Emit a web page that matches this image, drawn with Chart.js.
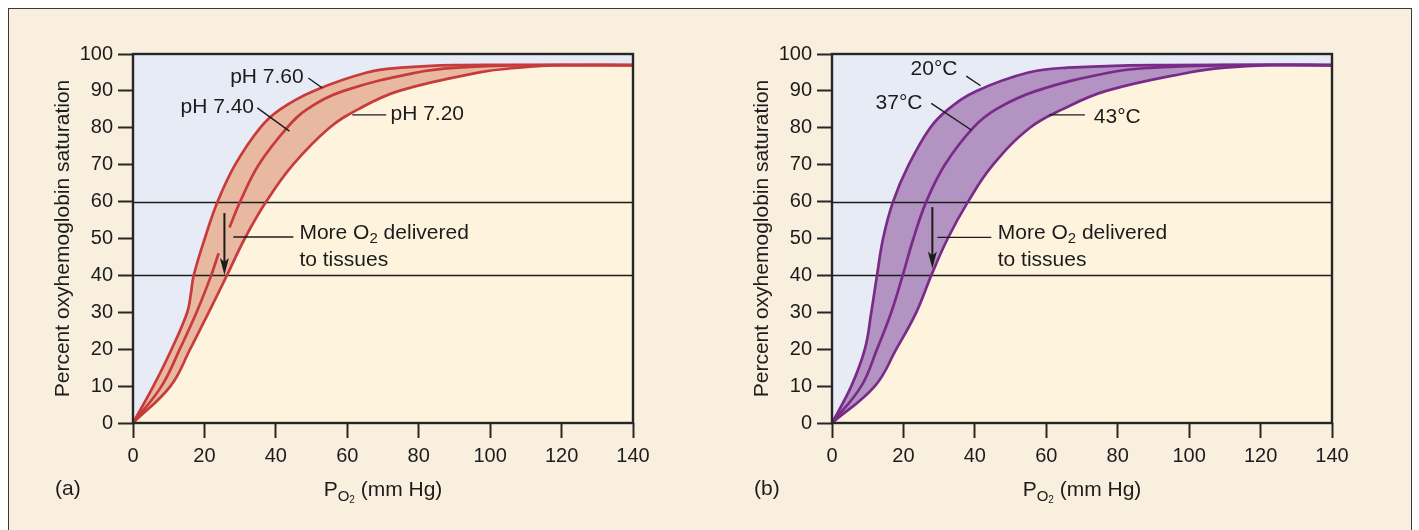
<!DOCTYPE html>
<html><head><meta charset="utf-8">
<script src="https://cdn.jsdelivr.net/npm/chart.js@4.4.1/dist/chart.umd.min.js"></script>
<style>
html,body{margin:0;padding:0;background:#fff;width:1419px;height:530px;overflow:hidden;}
#frame{position:absolute;left:8px;top:8px;width:1404px;height:560px;border:1.5px solid #3a3a3a;background:#f9efdf;box-sizing:border-box;}
.wrap{position:absolute;top:0;width:700px;height:530px;}
#wa{left:0px}
#wb{left:699px}
</style></head><body>
<div id="frame"></div>
<div class="wrap" id="wa"><canvas id="ca"></canvas></div>
<div class="wrap" id="wb"><canvas id="cb"></canvas></div>
<script>
// ---------- axis ticks ----------
const xTickValues = [0, 20, 40, 60, 80, 100, 120, 140];
const yTickValues = [0, 10, 20, 30, 40, 50, 60, 70, 80, 90, 100];
const refLines = [40, 60];

// ---------- panel (a): pH curves (saturation % and PO2 mm Hg) ----------
const satPH760 = [0, 10, 20, 30, 35, 40, 50, 60, 70, 80, 85, 90, 95, 96.3, 97, 97, 97];
const po2PH760 = [0, 5.7, 10.8, 15.2, 16.2, 17.0, 20.1, 23.7, 28.6, 35.6, 41.2, 50.6, 65.5, 75, 90, 115, 140];
const satPH740 = [0, 10, 20, 30, 40, 46, 53, 60, 70, 80, 85, 90, 95, 96.3, 97, 97, 97];
const po2PH740 = [0, 8.0, 13.1, 17.8, 21.9, 24.0, 27.0, 30.0, 35.2, 43.1, 48.7, 59.0, 79.5, 91, 110, 125, 140];
const gapPH740 = [46, 53];
const satPH720 = [0, 10, 20, 30, 40, 50, 60, 70, 80, 85, 90, 95, 96.3, 97, 97];
const po2PH720 = [0, 10.5, 16.0, 21.2, 26.3, 31.3, 37.3, 44.8, 55.0, 63.0, 74.5, 97, 108, 120, 140];

// ---------- panel (b): temperature curves ----------
const satT = [0, 10, 20, 30, 40, 50, 60, 70, 80, 85, 90, 95, 96.3, 97, 97];
const po2T20 = [0, 5.4, 9.2, 11.0, 12.6, 14.3, 17.1, 21.5, 27.5, 32.5, 40.5, 55.0, 66, 90, 140];
const po2T37 = [0, 8.2, 12.6, 16.6, 19.8, 22.8, 26.4, 31.6, 39.5, 45.9, 57.2, 77.8, 90, 110, 140];
const po2T43 = [0, 12.0, 18.0, 23.6, 27.8, 32.4, 38.1, 45.1, 55.4, 64.5, 76.8, 100, 110, 122, 140];

const FONT = "'Liberation Sans', Arial, Helvetica, sans-serif";
const INK = '#1c1c1c';

function pts(xs, ys) { return xs.map((x, i) => ({x: x, y: ys[i]})); }

function drawRich(ctx, parts, x, y) {
  let cx = x;
  for (const p of parts) {
    ctx.font = p.size + 'px ' + FONT;
    ctx.fillText(p.t, cx, y + (p.dy || 0));
    cx += ctx.measureText(p.t).width;
  }
}
function richWidth(ctx, parts) {
  let w = 0;
  for (const p of parts) { ctx.font = p.size + 'px ' + FONT; w += ctx.measureText(p.t).width; }
  return w;
}

function makePanel(canvasId, cfg) {
  const deco = {
    id: 'deco_' + canvasId,
    beforeDraw(chart) {
      const {ctx, chartArea: a} = chart;
      ctx.save();
      ctx.fillStyle = cfg.skyColor;
      ctx.fillRect(a.left, a.top, a.right - a.left, a.bottom - a.top);
      ctx.restore();
    },
    beforeDatasetsDraw(chart) {
      const {ctx, chartArea: a, scales: {y}} = chart;
      ctx.save();
      ctx.strokeStyle = INK; ctx.lineWidth = 1.3;
      for (const v of refLines) {
        const py = Math.round(y.getPixelForValue(v)) + 0.5;
        ctx.beginPath(); ctx.moveTo(a.left, py); ctx.lineTo(a.right, py); ctx.stroke();
      }
      ctx.restore();
    },
    afterDatasetsDraw(chart) {
      const {ctx, chartArea: a, scales: {x, y}} = chart;
      ctx.save();
      // frame
      ctx.strokeStyle = '#262626'; ctx.lineWidth = 2.4;
      ctx.strokeRect(a.left, a.top, a.right - a.left, a.bottom - a.top);
      // labels with leaders
      ctx.fillStyle = INK; ctx.strokeStyle = INK; ctx.lineWidth = 1.4;
      ctx.textBaseline = 'middle'; ctx.textAlign = 'left';
      for (const L of cfg.labels) {
        ctx.font = '21px ' + FONT;
        ctx.fillText(L.text, x.getPixelForValue(L.x), y.getPixelForValue(L.y));
        ctx.beginPath();
        ctx.moveTo(x.getPixelForValue(L.lead[0]), y.getPixelForValue(L.lead[1]));
        ctx.lineTo(x.getPixelForValue(L.lead[2]), y.getPixelForValue(L.lead[3]));
        ctx.stroke();
      }
      // "More O2 delivered / to tissues"
      const n = cfg.note;
      const nx = x.getPixelForValue(n.x);
      drawRich(ctx, [{t: 'More O', size: 21}, {t: '2', size: 15, dy: 5}, {t: ' delivered', size: 21}], nx, y.getPixelForValue(n.y1));
      drawRich(ctx, [{t: 'to tissues', size: 21}], nx, y.getPixelForValue(n.y2));
      ctx.beginPath();
      ctx.moveTo(x.getPixelForValue(n.lead[0]), y.getPixelForValue(n.lead[2]));
      ctx.lineTo(x.getPixelForValue(n.lead[1]), y.getPixelForValue(n.lead[2]));
      ctx.stroke();
      // arrow
      const ax = x.getPixelForValue(n.arrow[0]);
      const ay1 = y.getPixelForValue(n.arrow[1]);
      const ay2 = y.getPixelForValue(n.arrow[2]);
      ctx.lineWidth = 2;
      ctx.beginPath(); ctx.moveTo(ax, ay1); ctx.lineTo(ax, ay2 - 10); ctx.stroke();
      ctx.beginPath(); ctx.moveTo(ax, ay2); ctx.lineTo(ax - 4.5, ay2 - 17); ctx.lineTo(ax, ay2 - 13); ctx.lineTo(ax + 4.5, ay2 - 17); ctx.closePath(); ctx.fill();
      // x-axis title with subscript
      ctx.textBaseline = 'alphabetic';
      const parts = [{t: 'P', size: 21}, {t: 'O', size: 15, dy: 5}, {t: '2', size: 10, dy: 7}, {t: ' (mm Hg)', size: 21}];
      const w = richWidth(ctx, parts);
      drawRich(ctx, parts, (a.left + a.right) / 2 - w / 2, 496);
      // panel letter
      ctx.font = '21px ' + FONT;
      ctx.fillText(cfg.panel, a.left - 78, 495);
      ctx.restore();
    }
  };

  const datasets = cfg.curves.map((c, i) => ({
    label: c.label,
    data: c.data,
    borderColor: cfg.lineColor,
    borderWidth: 2.7,
    pointRadius: 0,
    tension: 0.4,
    fill: c.fill,
    backgroundColor: c.fillColor || 'transparent',
    segment: c.gap ? {
      borderColor: s => (s.p0.parsed.y >= c.gap[0] && s.p1.parsed.y <= c.gap[1]) ? 'rgba(0,0,0,0)' : cfg.lineColor
    } : undefined
  }));

  const tickFont = {family: FONT, size: 20};
  return new Chart(document.getElementById(canvasId), {
    type: 'line',
    data: {datasets},
    options: {
      responsive: true,
      maintainAspectRatio: false,
      animation: false,
      devicePixelRatio: 1,
      layout: {padding: {top: 54, right: 67, bottom: 0, left: 0}},
      plugins: {legend: {display: false}, tooltip: {enabled: false}, filler: {drawTime: 'beforeDatasetsDraw'}},
      scales: {
        x: {
          type: 'linear', min: 0, max: 140,
          afterBuildTicks: s => { s.ticks = xTickValues.map(v => ({value: v})); },
          afterFit: s => { s.height = 107; },
          ticks: {font: tickFont, color: INK, padding: 6, maxRotation: 0, autoSkip: false},
          grid: {drawOnChartArea: false, tickLength: 15, tickWidth: 2, tickColor: '#262626'},
          border: {display: false},
          title: {display: false}
        },
        y: {
          type: 'linear', min: 0, max: 100,
          afterBuildTicks: s => { s.ticks = yTickValues.map(v => ({value: v})); },
          afterFit: s => { s.width = 133; },
          ticks: {font: tickFont, color: INK, padding: 5, autoSkip: false},
          grid: {drawOnChartArea: false, tickLength: 15, tickWidth: 2, tickColor: '#262626'},
          border: {display: false},
          title: {display: true, text: 'Percent oxyhemoglobin saturation', color: INK,
                  font: {family: FONT, size: 21}, padding: {top: 51, bottom: 0}}
        }
      }
    },
    plugins: [deco]
  });
}

const RED = '#c63b3b';
makePanel('ca', {
  panel: '(a)',
  lineColor: RED,
  skyColor: '#e7ebf5',
  curves: [
    {label: 'pH 7.60', data: pts(po2PH760, satPH760), fill: 2, fillColor: '#e9b8a0'},
    {label: 'pH 7.40', data: pts(po2PH740, satPH740), fill: false, gap: gapPH740},
    {label: 'pH 7.20', data: pts(po2PH720, satPH720), fill: 'origin', fillColor: '#fef4de'}
  ],
  labels: [
    {text: 'pH 7.60', x: 27.2, y: 93.8, lead: [49.1, 93.5, 53.0, 90.8]},
    {text: 'pH 7.40', x: 13.3, y: 85.6, lead: [34.8, 85.4, 43.8, 79.1]},
    {text: 'pH 7.20', x: 72.1, y: 83.8, lead: [61.4, 83.5, 70.9, 83.5]}
  ],
  note: {x: 46.6, y1: 51.3, y2: 44.2, lead: [28.1, 44.9, 50.4], arrow: [25.6, 56.9, 40.1]}
});

const PURPLE = '#7a2a88';
makePanel('cb', {
  panel: '(b)',
  lineColor: PURPLE,
  skyColor: '#e7ebf5',
  curves: [
    {label: '20°C', data: pts(po2T20, satT), fill: 2, fillColor: '#b393c1'},
    {label: '37°C', data: pts(po2T37, satT), fill: false},
    {label: '43°C', data: pts(po2T43, satT), fill: 'origin', fillColor: '#fef4de'}
  ],
  labels: [
    {text: '20°C', x: 22.0, y: 95.8, lead: [37.6, 94.0, 41.6, 91.4]},
    {text: '37°C', x: 12.2, y: 86.6, lead: [27.8, 86.6, 39.0, 79.4]},
    {text: '43°C', x: 73.3, y: 83.0, lead: [60.8, 83.5, 70.8, 83.5]}
  ],
  note: {x: 46.4, y1: 51.3, y2: 44.2, lead: [29.5, 44.6, 50.3], arrow: [28.1, 58.5, 41.9]}
});
</script>
</body></html>
